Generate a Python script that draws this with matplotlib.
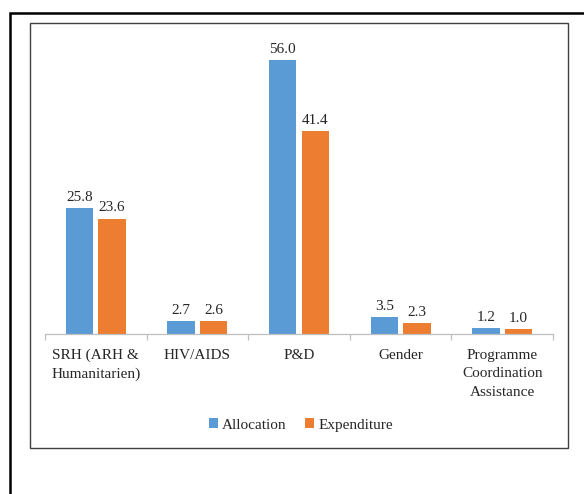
import matplotlib
matplotlib.use("Agg")
import matplotlib.pyplot as plt
from matplotlib.patches import Rectangle
import numpy as np

# budget by programme area (US$ millions)
categories = ["SRH (ARH &\nHumanitarien)", "HIV/AIDS", "P&D", "Gender",
              "Programme\nCoordination\nAssistance"]
allocation = [25.8, 2.7, 56.0, 3.5, 1.2]
expenditure = [23.6, 2.6, 41.4, 2.3, 1.0]

plt.rcParams['font.family'] = ['Liberation Serif', 'DejaVu Serif']
txt_color = '#262626'
blue = '#5B9BD5'
orange = '#ED7D31'

W, H = 584, 494
fig = plt.figure(figsize=(W / 100, H / 100), dpi=100)
ax = fig.add_axes([45 / W, 160 / H, 508 / W, 293.6 / H])

x = np.arange(len(categories))
bw = 0.27
off = 0.16
b1 = ax.bar(x - off, allocation, bw, color=blue, label='Allocation')
b2 = ax.bar(x + off, expenditure, bw, color=orange, label='Expenditure')

for bars, vals in ((b1, allocation), (b2, expenditure)):
    for r, v in zip(bars, vals):
        ax.annotate(f"{v:.1f}", (r.get_x() + r.get_width() / 2, v),
                    xytext=(0, 3), textcoords='offset points',
                    ha='center', va='bottom', fontsize=11, color=txt_color)

ax.set_xlim(-0.5, len(categories) - 0.5)
ax.set_ylim(0, 60)
ax.set_yticks([])
for s in ('top', 'right', 'left'):
    ax.spines[s].set_visible(False)
ax.spines['bottom'].set_color('#BFBFBF')
ax.spines['bottom'].set_linewidth(0.9)

ax.set_xticks(x)
ax.set_xticklabels(categories, fontsize=11, color=txt_color, linespacing=1.55,
                   va='top')
ax.tick_params(axis='x', which='major', length=0, pad=10.5)
ax.set_xticks(np.arange(-0.5, len(categories)), minor=True)
ax.tick_params(axis='x', which='minor', length=4, color='#BFBFBF', width=0.9)

fig.legend(handles=[b1, b2], loc='center', bbox_to_anchor=(301 / W, 1 - 425 / H),
           ncol=2, frameon=False, fontsize=11, handlelength=0.6,
           handleheight=0.6, handletextpad=0.25, columnspacing=1.2,
           labelcolor=txt_color)

# chart frame and page border
fig.patches.append(Rectangle((30 / W, 1 - 448 / H), 538 / W, 425 / H,
                             transform=fig.transFigure, fill=False,
                             edgecolor='#404040', linewidth=1.0))
fig.patches.append(Rectangle((10 / W, -0.2), 1.5, 1.2 - 13 / H,
                             transform=fig.transFigure, fill=False,
                             edgecolor='black', linewidth=1.8))

fig.savefig('out.png', dpi=100)
